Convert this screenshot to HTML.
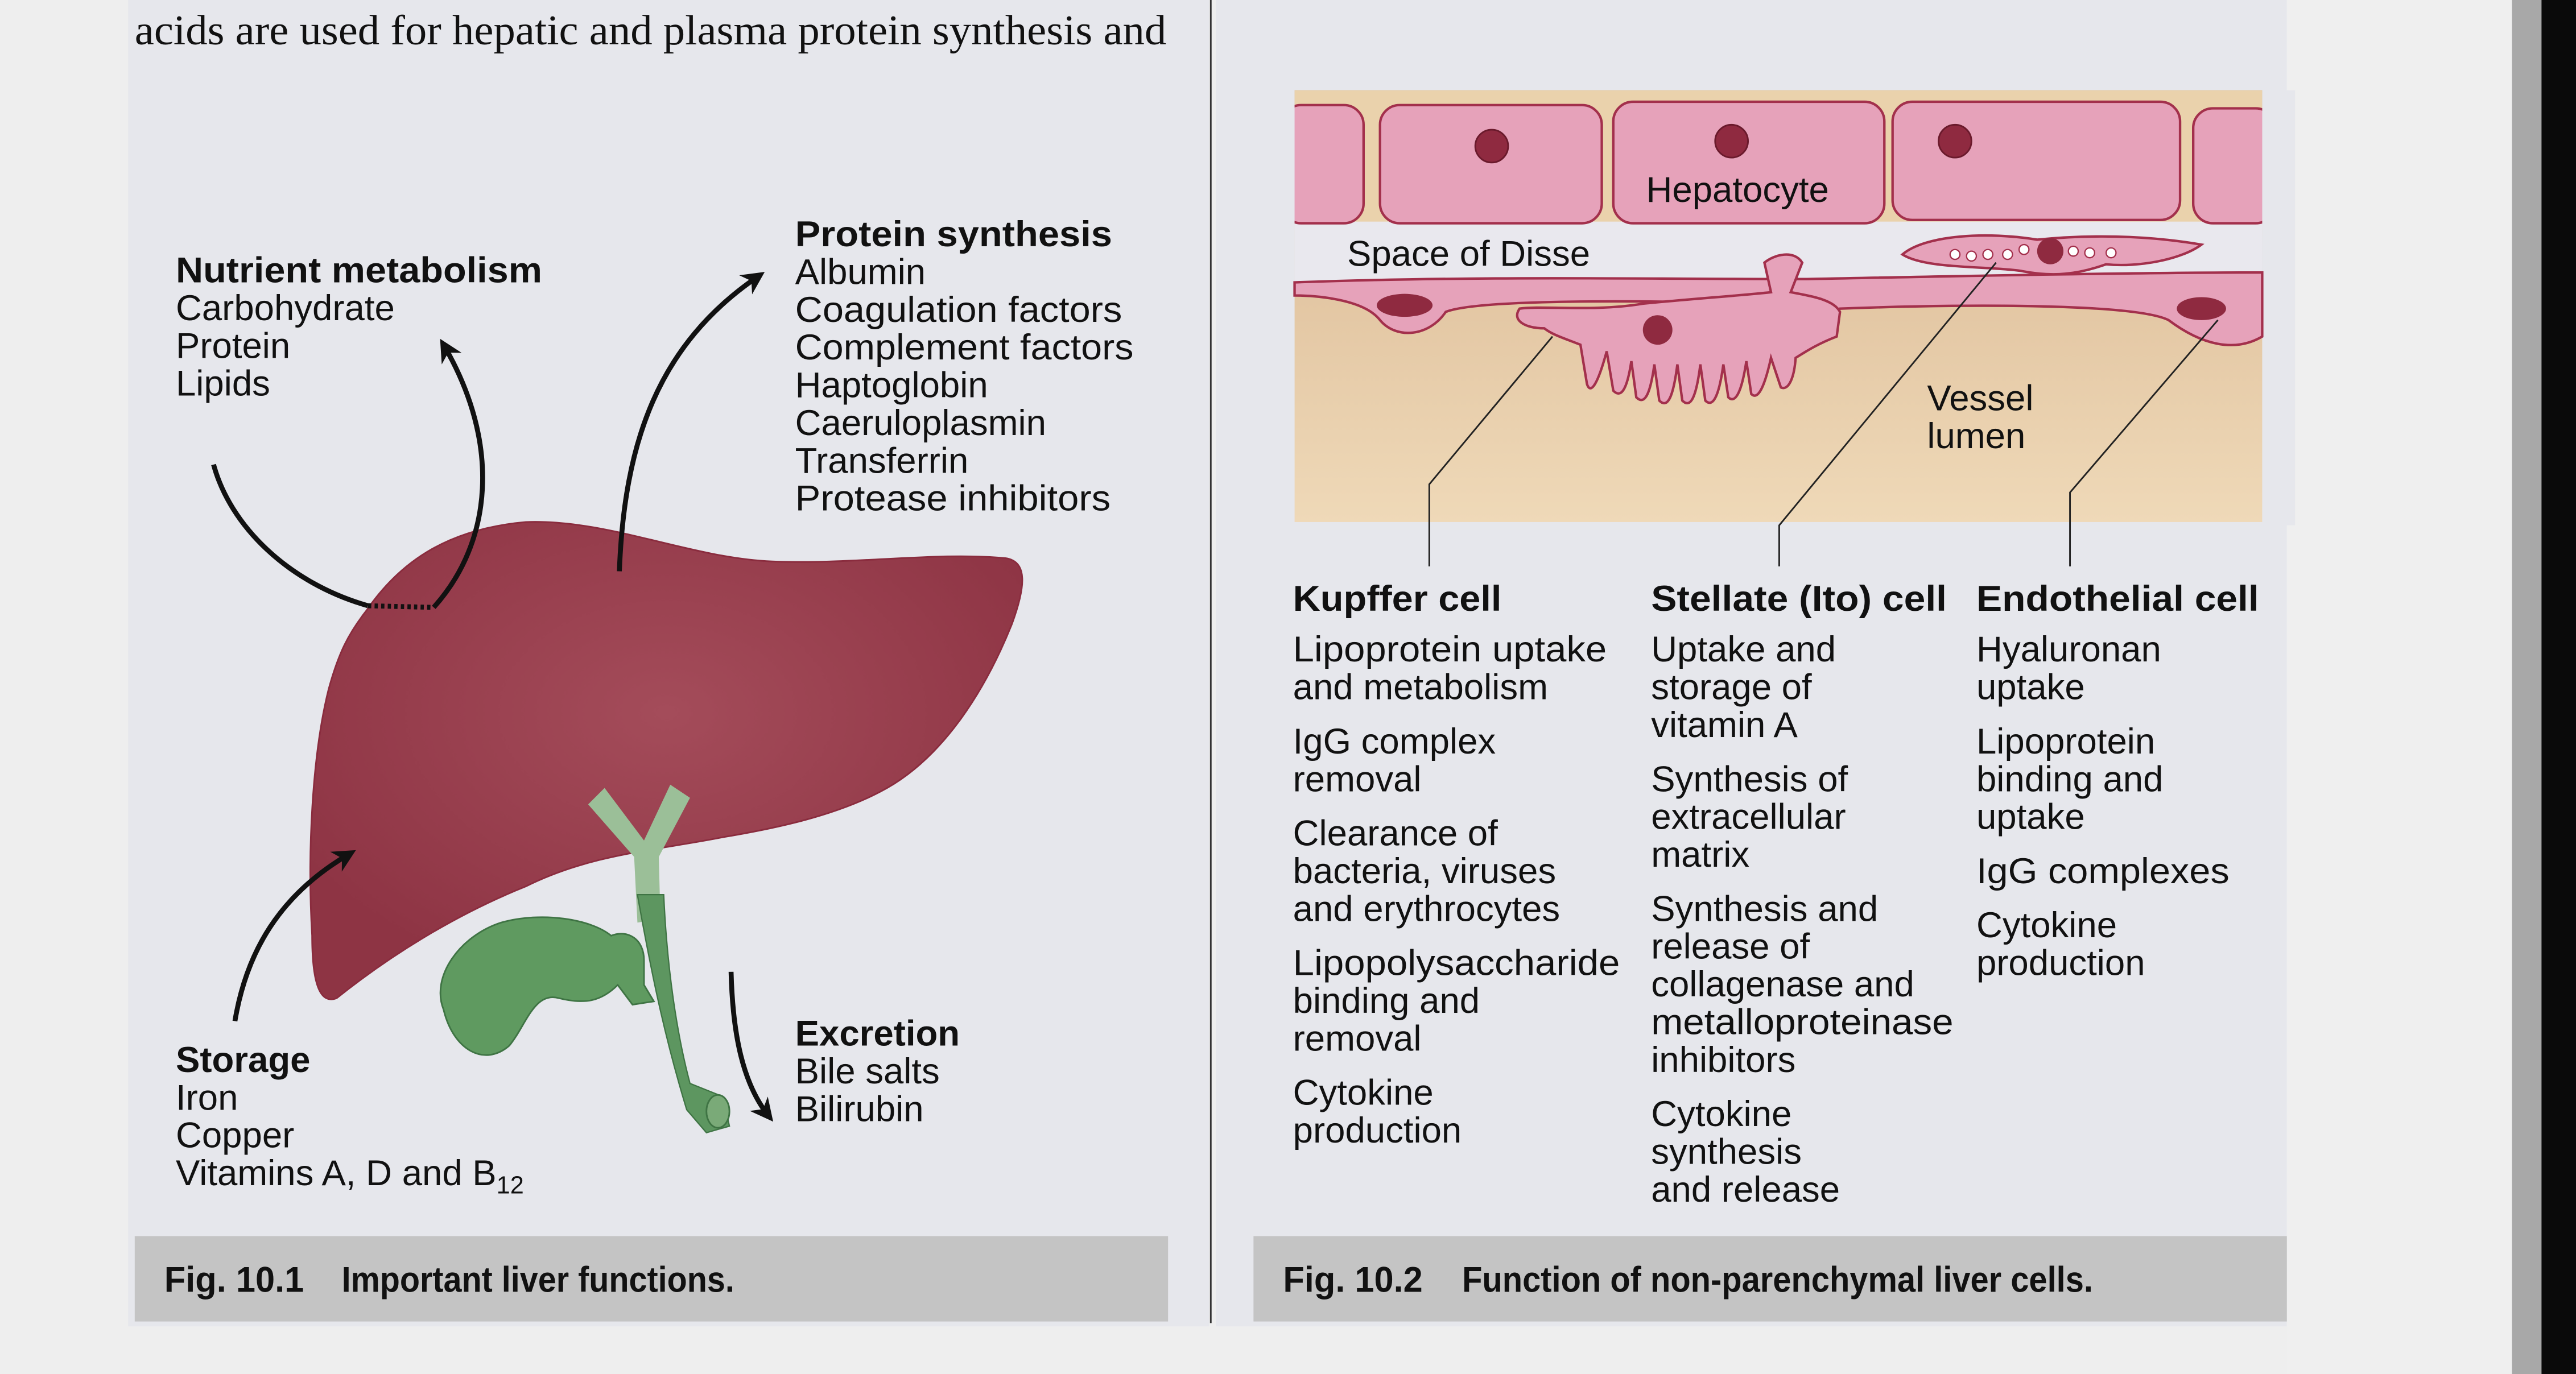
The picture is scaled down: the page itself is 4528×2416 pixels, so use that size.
<!DOCTYPE html>
<html><head><meta charset="utf-8"><style>
html,body{margin:0;padding:0;background:#ececec;}
svg{display:block}
text{font-family:"Liberation Sans",Arial,sans-serif;fill:#111}
.t{font-size:22px}
.b{font-weight:bold}
</style></head><body>
<svg width="4528" height="2416" viewBox="0 0 1568 837" preserveAspectRatio="none" xmlns="http://www.w3.org/2000/svg">
<defs>
<marker id="ah" markerWidth="14" markerHeight="14" refX="7" refY="5" orient="auto" markerUnits="userSpaceOnUse" viewBox="0 0 10 10">
<path d="M0,0 L10,5 L0,10 L3,5 z" fill="#111"/></marker>
<linearGradient id="lum" x1="0" y1="0" x2="0" y2="1">
<stop offset="0" stop-color="#b08862"/><stop offset="0.35" stop-color="#e0c29e"/><stop offset="1" stop-color="#efd9b8"/></linearGradient>
<radialGradient id="liv" cx="0.5" cy="0.4" r="0.6"><stop offset="0" stop-color="#a44c5a"/><stop offset="1" stop-color="#8e3444"/></radialGradient>
</defs>
<rect x="0" y="0" width="1568" height="837" fill="#eeeeee"/>
<rect x="78" y="0" width="658" height="808" fill="#e6e7ec"/>
<rect x="740" y="0" width="652" height="808" fill="#e6e7ec"/>
<rect x="1392" y="0" width="137" height="837" fill="#efefef"/>
<rect x="1529" y="0" width="18" height="837" fill="#a8a8a8"/>
<rect x="1547" y="0" width="21" height="837" fill="#0a0a0a"/>
<line x1="737" y1="0" x2="737" y2="806" stroke="#333" stroke-width="1"/>
<text x="82" y="27" style="font-family:'Liberation Serif',serif;font-size:25.5px" textLength="628" lengthAdjust="spacingAndGlyphs">acids are used for hepatic and plasma protein synthesis and</text>

<!-- LEFT: liver -->
<path d="M223,372 C245,340 275,322 320,318 C370,316 420,340 470,342 C520,344 570,336 612,340 C626,342 624,358 616,380 C600,420 575,460 540,480 C510,497 470,505 440,510 C400,518 360,520 320,540 C280,556 240,580 205,608 C195,612 190,600 190,570 C187,520 190,460 200,420 C206,398 212,386 223,372 Z" fill="url(#liv)" stroke="#8a2c3e" stroke-width="1"/>
<!-- bile duct Y -->
<path d="M358,490 L368,480 L392,512 L408,478 L420,486 L401,522 L402,560 L388,562 L386,522 Z" fill="#9bbf98"/>
<path d="M388,545 L404,545 C406,590 412,630 420,660 L440,668 L444,686 L430,690 L418,676 C404,630 396,590 388,545 Z" fill="#5d9660" stroke="#3f7444" stroke-width="0.8"/>
<ellipse cx="437" cy="677" rx="7" ry="10" fill="#7aaa78" stroke="#3f7444"/>
<!-- gallbladder -->
<path d="M270,615 C262,595 280,570 305,562 C330,555 360,560 372,570 C382,566 392,572 392,585 L392,600 L398,610 L385,612 L376,600 C366,610 356,612 340,608 C325,604 320,625 310,637 C295,650 276,640 270,615 Z" fill="#5f9a60" stroke="#3f7444" stroke-width="1"/>
<!-- arrows left -->
<path d="M130,283 C140,320 175,355 224,369" fill="none" stroke="#111" stroke-width="3"/>
<path d="M224,369 L264,370" fill="none" stroke="#111" stroke-width="3" stroke-dasharray="2,2"/>
<path d="M264,370 C300,330 305,270 270,210" fill="none" stroke="#111" stroke-width="3" marker-end="url(#ah)"/>
<path d="M377,348 C380,270 400,210 462,168" fill="none" stroke="#111" stroke-width="3" marker-end="url(#ah)"/>
<path d="M143,622 C150,580 170,545 213,520" fill="none" stroke="#111" stroke-width="3" marker-end="url(#ah)"/>
<path d="M445,592 C446,630 452,660 468,680" fill="none" stroke="#111" stroke-width="3" marker-end="url(#ah)"/>
<!-- left text -->
<text class="t b" x="107" y="172" textLength="223" lengthAdjust="spacingAndGlyphs">Nutrient metabolism</text>
<text class="t" x="107" y="195">Carbohydrate</text>
<text class="t" x="107" y="218">Protein</text>
<text class="t" x="107" y="241">Lipids</text>
<text class="t b" x="484" y="150" textLength="193" lengthAdjust="spacingAndGlyphs">Protein synthesis</text>
<text class="t" x="484" y="173">Albumin</text>
<text class="t" x="484" y="196" textLength="199" lengthAdjust="spacingAndGlyphs">Coagulation factors</text>
<text class="t" x="484" y="219" textLength="206" lengthAdjust="spacingAndGlyphs">Complement factors</text>
<text class="t" x="484" y="242">Haptoglobin</text>
<text class="t" x="484" y="265">Caeruloplasmin</text>
<text class="t" x="484" y="288">Transferrin</text>
<text class="t" x="484" y="311" textLength="192" lengthAdjust="spacingAndGlyphs">Protease inhibitors</text>
<text class="t b" x="484" y="637">Excretion</text>
<text class="t" x="484" y="660">Bile salts</text>
<text class="t" x="484" y="683">Bilirubin</text>
<text class="t b" x="107" y="653">Storage</text>
<text class="t" x="107" y="676">Iron</text>
<text class="t" x="107" y="699">Copper</text>
<text class="t" x="107" y="722">Vitamins A, D and B<tspan font-size="15" dy="5">12</tspan></text>

<!-- RIGHT diagram -->
<rect x="788" y="55" width="589" height="263" fill="url(#lum)"/>
<rect x="788" y="55" width="589" height="85" fill="#ead2ac"/>
<rect x="788" y="135" width="589" height="38" fill="#e9e8ee"/>
<g fill="#e6a2ba" stroke="#a3304c" stroke-width="1.5">
<rect x="780" y="64" width="50" height="72" rx="12"/>
<rect x="840" y="64" width="135" height="72" rx="12"/>
<rect x="982" y="62" width="165" height="74" rx="12"/>
<rect x="1152" y="62" width="175" height="72" rx="12"/>
<rect x="1335" y="66" width="50" height="70" rx="12"/>
</g>
<rect x="1377" y="55" width="20" height="265" fill="#e6e7ec"/>
<rect x="770" y="55" width="18" height="265" fill="#e6e7ec"/>
<g fill="#8f2a40" stroke="#6a1a2c">
<circle cx="908" cy="89" r="10"/><circle cx="1054" cy="86" r="10"/><circle cx="1190" cy="86" r="10"/>
</g>
<!-- endothelium -->
<path d="M788,172 C900,168 1000,170 1100,170 C1200,168 1300,166 1377,166 L1377,205 C1360,215 1340,210 1320,195 C1300,185 1200,185 1120,188 C1100,210 1080,200 1080,185 C1000,183 900,182 880,190 C870,205 850,207 840,195 C830,182 800,180 788,180 Z" fill="#e6a2ba" stroke="#a3304c" stroke-width="1.5"/>
<ellipse cx="855" cy="186" rx="17" ry="7" fill="#8f2a40"/>
<ellipse cx="1340" cy="188" rx="15" ry="7" fill="#8f2a40"/>
<!-- Kupffer -->
<path d="M925,188 C940,186 970,190 1000,185 C1030,182 1060,180 1078,178 L1074,160 C1080,155 1092,152 1097,160 L1090,178 C1100,180 1116,182 1120,190 L1118,205 C1105,210 1098,215 1093,218 C1092,232 1088,238 1084,236 L1078,218 C1074,236 1070,244 1066,240 L1063,220 C1060,240 1056,246 1052,242 L1049,222 C1046,244 1042,248 1038,244 L1035,222 C1032,246 1028,248 1024,244 L1021,222 C1018,246 1014,248 1010,244 L1007,222 C1004,244 1000,246 996,242 L993,220 C990,240 986,242 982,238 L978,214 C972,236 968,240 966,234 L962,210 C952,206 945,204 940,200 C928,200 920,195 925,188 Z" fill="#e6a2ba" stroke="#a3304c" stroke-width="1.5"/>
<circle cx="1009" cy="201" r="9" fill="#8f2a40"/>
<!-- stellate -->
<path d="M1158,155 C1172,143 1210,141 1240,146 C1270,143 1305,143 1340,149 C1328,158 1302,163 1282,161 C1265,167 1250,169 1230,165 C1210,162 1172,164 1158,155 Z" fill="#e6a2ba" stroke="#a3304c" stroke-width="1.5"/>
<circle cx="1248" cy="153" r="8" fill="#8f2a40"/>
<g fill="#fff" stroke="#a3304c" stroke-width="0.8"><circle cx="1190" cy="155" r="3"/><circle cx="1200" cy="156" r="3"/><circle cx="1210" cy="155" r="3"/><circle cx="1222" cy="155" r="3"/><circle cx="1232" cy="152" r="3"/><circle cx="1262" cy="153" r="3"/><circle cx="1272" cy="154" r="3"/><circle cx="1285" cy="154" r="3"/></g>
<text class="t" x="1002" y="123">Hepatocyte</text>
<text class="t" x="820" y="162">Space of Disse</text>
<text class="t" x="1173" y="250">Vessel</text>
<text class="t" x="1173" y="273">lumen</text>
<g stroke="#222" stroke-width="1" fill="none">
<polyline points="945,205 870,295 870,345"/>
<polyline points="1215,160 1083,320 1083,345"/>
<polyline points="1350,195 1260,300 1260,345"/>
</g>
<!-- right text -->
<text class="t b" x="787" y="372" textLength="127" lengthAdjust="spacingAndGlyphs">Kupffer cell</text>
<text class="t" x="787" y="403" textLength="191" lengthAdjust="spacingAndGlyphs">Lipoprotein uptake</text>
<text class="t" x="787" y="426">and metabolism</text>
<text class="t" x="787" y="459">IgG complex</text>
<text class="t" x="787" y="482">removal</text>
<text class="t" x="787" y="515">Clearance of</text>
<text class="t" x="787" y="538">bacteria, viruses</text>
<text class="t" x="787" y="561">and erythrocytes</text>
<text class="t" x="787" y="594" textLength="199" lengthAdjust="spacingAndGlyphs">Lipopolysaccharide</text>
<text class="t" x="787" y="617">binding and</text>
<text class="t" x="787" y="640">removal</text>
<text class="t" x="787" y="673">Cytokine</text>
<text class="t" x="787" y="696">production</text>
<text class="t b" x="1005" y="372" textLength="180" lengthAdjust="spacingAndGlyphs">Stellate (Ito) cell</text>
<text class="t" x="1005" y="403">Uptake and</text>
<text class="t" x="1005" y="426">storage of</text>
<text class="t" x="1005" y="449">vitamin A</text>
<text class="t" x="1005" y="482">Synthesis of</text>
<text class="t" x="1005" y="505">extracellular</text>
<text class="t" x="1005" y="528">matrix</text>
<text class="t" x="1005" y="561">Synthesis and</text>
<text class="t" x="1005" y="584">release of</text>
<text class="t" x="1005" y="607">collagenase and</text>
<text class="t" x="1005" y="630" textLength="184" lengthAdjust="spacingAndGlyphs">metalloproteinase</text>
<text class="t" x="1005" y="653">inhibitors</text>
<text class="t" x="1005" y="686">Cytokine</text>
<text class="t" x="1005" y="709">synthesis</text>
<text class="t" x="1005" y="732">and release</text>
<text class="t b" x="1203" y="372" textLength="172" lengthAdjust="spacingAndGlyphs">Endothelial cell</text>
<text class="t" x="1203" y="403">Hyaluronan</text>
<text class="t" x="1203" y="426">uptake</text>
<text class="t" x="1203" y="459">Lipoprotein</text>
<text class="t" x="1203" y="482">binding and</text>
<text class="t" x="1203" y="505">uptake</text>
<text class="t" x="1203" y="538" textLength="154" lengthAdjust="spacingAndGlyphs">IgG complexes</text>
<text class="t" x="1203" y="571">Cytokine</text>
<text class="t" x="1203" y="594">production</text>
<!-- captions -->
<rect x="82" y="753" width="629" height="52" fill="#c4c4c4"/>
<rect x="763" y="753" width="629" height="52" fill="#c4c4c4"/>
<text class="b" x="100" y="787" style="font-size:22px" textLength="85" lengthAdjust="spacingAndGlyphs">Fig. 10.1</text>
<text class="b" x="208" y="787" style="font-size:22px" textLength="239" lengthAdjust="spacingAndGlyphs">Important liver functions.</text>
<text class="b" x="781" y="787" style="font-size:22px" textLength="85" lengthAdjust="spacingAndGlyphs">Fig. 10.2</text>
<text class="b" x="890" y="787" style="font-size:22px" textLength="384" lengthAdjust="spacingAndGlyphs">Function of non-parenchymal liver cells.</text>
</svg>
</body></html>
